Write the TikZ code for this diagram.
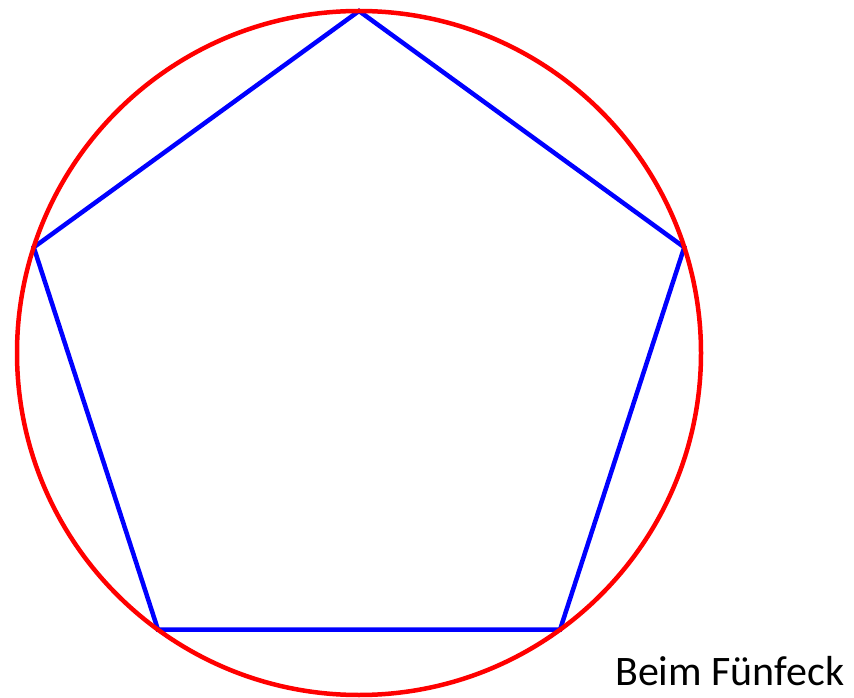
\documentclass[tikz,border=0pt]{standalone}
\usepackage{fontspec}
\setmainfont{Carlito}
\usetikzlibrary{calc}

\begin{document}
\begin{tikzpicture}[
  x=1pt, y=1pt,
  polygon/.style={draw=blue, line width=4.5pt, line join=miter},
  circumcircle/.style={draw=red, line width=4.5pt},
  caption/.style={font=\fontsize{42}{46}\selectfont, anchor=base west, inner sep=0pt}
]
\useasboundingbox (0,0) rectangle (854,697);

% Circle centre and the five corners of the pentagon.
\coordinate (M) at (359,344);
\foreach \i/\a in {1/90,2/18,3/-54,4/-126,5/162}
  \coordinate (P\i) at ($(M)+(\a:342)$);

\draw[polygon] (P1) -- (P2) -- (P3) -- (P4) -- (P5) -- cycle;
\draw[circumcircle] (M) circle[radius=342];

\node[caption] (label) at (615,12) {Beim Fünfeck};

\end{tikzpicture}
\end{document}
